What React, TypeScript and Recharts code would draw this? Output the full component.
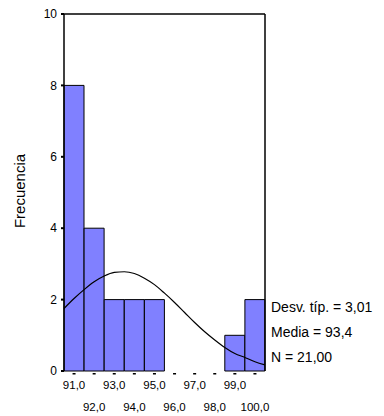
import React from 'react';
import {
  ComposedChart,
  Bar,
  Line,
  XAxis,
  YAxis,
  ReferenceLine,
  Customized,
} from 'recharts';

// Histogram bins (class midpoints) and their counts
const binLabels = ['91,0', '92,0', '93,0', '94,0', '95,0', '96,0', '97,0', '98,0', '99,0', '100,0'];
const counts = [8, 4, 2, 2, 2, 0, 0, 0, 1, 2];

// Fitted normal curve, sampled every half unit across the bins
const curveX = [
  90.5, 91.0, 91.5, 92.0, 92.5, 93.0, 93.5, 94.0, 94.5, 95.0, 95.5,
  96.0, 96.5, 97.0, 97.5, 98.0, 98.5, 99.0, 99.5, 100.0, 100.5,
];
const curveY = [
  1.75, 2.03, 2.28, 2.5, 2.66, 2.76, 2.78, 2.73, 2.6, 2.42, 2.18,
  1.92, 1.64, 1.36, 1.1, 0.87, 0.66, 0.49, 0.38, 0.26, 0.17,
];

const yTicks = [0, 2, 4, 6, 8, 10];
const statLines = ['Desv. típ. = 3,01', 'Media = 93,4', 'N = 21,00'];

const binData = binLabels.map((label, i) => ({ label, count: counts[i] }));
const curveData = curveX.map((x, i) => ({ x, y: curveY[i] }));

const FONT = '"Liberation Sans", Arial, sans-serif';

const XTick = (props: any) => {
  const { x, y, payload, index } = props;
  const low = index % 2 === 1;
  return (
    <g>
      <rect x={x - 1.5} y={y + 2} width={3} height={1.5} fill="#000" />
      <text
        x={x}
        y={y + (low ? 40 : 18)}
        textAnchor="middle"
        fontSize={11.5}
        fontFamily={FONT}
        fill="#000"
      >
        {payload.value}
      </text>
    </g>
  );
};

const Stats = () => (
  <g>
    {statLines.map((s, i) => (
      <text key={s} x={271} y={312 + i * 25} fontSize={14} fontFamily={FONT} fill="#000">
        {s}
      </text>
    ))}
  </g>
);

export default function App() {
  return (
    <div style={{ position: 'absolute', left: 0, top: 0, background: '#fff' }}>
      <ComposedChart
        width={384}
        height={416}
        data={binData}
        margin={{ top: 14, right: 119, bottom: 0, left: 0 }}
        barCategoryGap={0}
        barGap={0}
      >
        <XAxis
          dataKey="label"
          height={45}
          axisLine={false}
          tickLine={false}
          tickSize={0}
          tickMargin={0}
          interval={0}
          tick={<XTick />}
        />
        <XAxis xAxisId="curve" type="number" dataKey="x" domain={[90.5, 100.5]} hide />
        <YAxis
          width={64}
          domain={[0, 10]}
          ticks={yTicks}
          interval={0}
          stroke="#000"
          tickSize={3}
          tickLine={{ stroke: '#000', strokeWidth: 2 }}
          axisLine={{ stroke: '#000', strokeWidth: 1.5 }}
          tick={{ fontSize: 12, fontFamily: FONT, fill: '#000' }}
          tickMargin={4}
          label={{
            content: () => (
              <text
                x={25}
                y={191}
                transform="rotate(-90 25 191)"
                textAnchor="middle"
                fontSize={15}
                fontFamily={FONT}
                fill="#000"
              >
                Frecuencia
              </text>
            ),
          }}
        />
        <ReferenceLine y={10} stroke="#000" strokeWidth={1.5} />
        <ReferenceLine xAxisId="curve" x={100.5} stroke="#000" strokeWidth={1.5} />
        <Bar dataKey="count" fill="#8080ff" stroke="#000" strokeWidth={1} isAnimationActive={false} />
        <Line
          xAxisId="curve"
          data={curveData}
          dataKey="y"
          type="monotone"
          stroke="#000"
          strokeWidth={1.2}
          dot={false}
          isAnimationActive={false}
        />
        <Customized component={Stats} />
      </ComposedChart>
    </div>
  );
}
